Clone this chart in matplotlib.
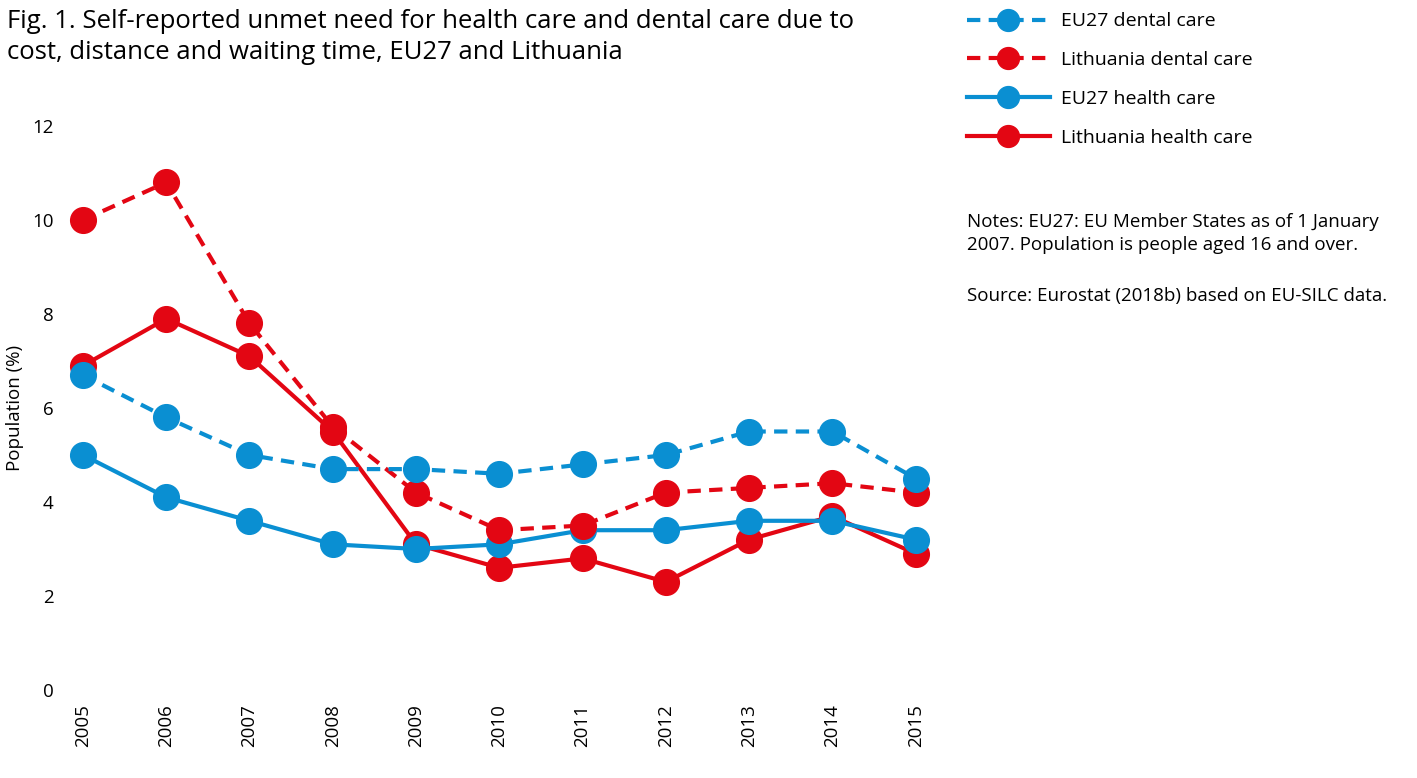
import matplotlib
matplotlib.use('Agg')
import matplotlib.pyplot as plt

plt.rcParams['font.family'] = ['Open Sans', 'DejaVu Sans']

years = [2005, 2006, 2007, 2008, 2009, 2010, 2011, 2012, 2013, 2014, 2015]
eu_dental = [6.7, 5.8, 5.0, 4.7, 4.7, 4.6, 4.8, 5.0, 5.5, 5.5, 4.5]
lt_dental = [10.0, 10.8, 7.8, 5.6, 4.2, 3.4, 3.5, 4.2, 4.3, 4.4, 4.2]
eu_health = [5.0, 4.1, 3.6, 3.1, 3.0, 3.1, 3.4, 3.4, 3.6, 3.6, 3.2]
lt_health = [6.9, 7.9, 7.1, 5.5, 3.1, 2.6, 2.8, 2.3, 3.2, 3.7, 2.9]

blue = '#0a8fd2'
red = '#e30613'

fig = plt.figure(figsize=(14.17, 7.78), dpi=100)
W, H = 1417, 778
ax = fig.add_axes([66.3 / W, 88 / H, 866 / W, 564 / H])

lw = 3.0
ms = 18.5
dash = (0, (3.2, 2.0))
h4, = ax.plot(years, lt_health, color=red, lw=lw, marker='o', ms=ms, clip_on=False, label='Lithuania health care')
h3, = ax.plot(years, eu_health, color=blue, lw=lw, marker='o', ms=ms, clip_on=False, label='EU27 health care')
h2, = ax.plot(years, lt_dental, color=red, lw=lw, ls=dash, marker='o', ms=ms, clip_on=False, label='Lithuania dental care')
h1, = ax.plot(years, eu_dental, color=blue, lw=lw, ls=dash, marker='o', ms=ms, clip_on=False, label='EU27 dental care')

ax.set_xlim(2004.8, 2015.2)
ax.set_ylim(0, 12)
ax.set_xticks(years)
ax.set_xticklabels([str(y) for y in years], rotation=90, fontsize=13.5, va='top')
ax.set_yticks(range(0, 13, 2))
ax.tick_params(axis='y', labelsize=13.5, length=0, pad=9)
ax.tick_params(axis='x', length=0, pad=10)
for s in ax.spines.values():
    s.set_visible(False)
ax.set_ylabel('Population (%)', fontsize=13.5, va='center')
ax.yaxis.set_label_coords(-(66.3 - 15) / 866, 0.5)

fig.text(7 / W, 1 - 9 / H, 'Fig. 1. Self-reported unmet need for health care and dental care due to\ncost, distance and waiting time, EU27 and Lithuania',
         fontsize=18.5, va='top', ha='left', linespacing=1.3)

fig.legend(handles=[h1, h2, h3, h4], loc='upper left', bbox_to_anchor=(949 / W, 1 + 5 / H),
           frameon=False, fontsize=14, handlelength=4.3, handletextpad=0.55, labelspacing=1.07,
           markerscale=0.85)

fig.text(967 / W, 1 - 213 / H, 'Notes: EU27: EU Member States as of 1 January\n2007. Population is people aged 16 and over.',
         fontsize=13.5, va='top', ha='left', linespacing=1.38)
fig.text(967 / W, 1 - 287 / H, 'Source: Eurostat (2018b) based on EU-SILC data.',
         fontsize=13.5, va='top', ha='left')

fig.savefig('out.png', dpi=100)
